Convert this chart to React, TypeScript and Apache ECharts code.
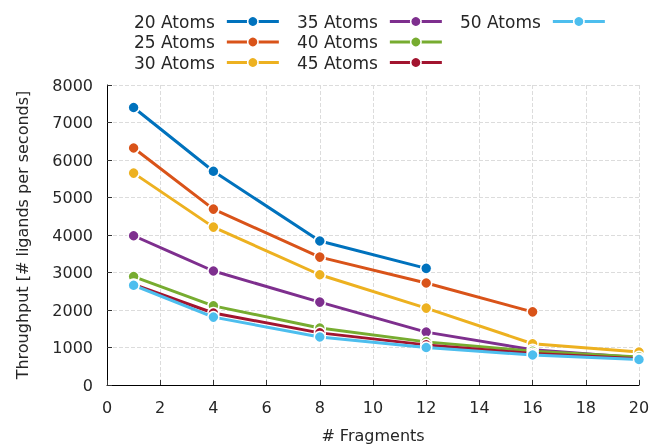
import React, { useEffect, useRef } from "react";
import * as echarts from "echarts";

const fragments = [1, 4, 8, 12, 16, 20];
const seriesNames = ["20 Atoms", "25 Atoms", "30 Atoms", "35 Atoms", "40 Atoms", "45 Atoms", "50 Atoms"];
const atoms20 = [7400, 5700, 3840, 3110];
const atoms25 = [6320, 4690, 3410, 2720, 1950];
const atoms30 = [5650, 4210, 2940, 2050, 1100, 880];
const atoms35 = [3980, 3040, 2210, 1410, 940, 730];
const atoms40 = [2890, 2110, 1520, 1150, 900, 750];
const atoms45 = [2680, 1920, 1390, 1070, 840, 700];
const atoms50 = [2660, 1810, 1280, 1000, 800, 680];
const colors = ["#0072BD", "#D95319", "#EDB120", "#7E2F8E", "#77AC30", "#A2142F", "#4DBEEE"];
const xTicks = { min: 0, max: 20, interval: 2 };
const yTicks = { min: 0, max: 8000, interval: 1000 };

const allValues = [atoms20, atoms25, atoms30, atoms35, atoms40, atoms45, atoms50];

const FONT = "DejaVu Sans";
const TEXT = "#262626";

export default function App() {
  const ref = useRef<HTMLDivElement>(null);
  useEffect(() => {
    if (!ref.current) return;
    const chart = echarts.init(ref.current, null, { renderer: "svg" });
    const series = allValues.map((vals, i) => ({
      name: seriesNames[i],
      type: "line",
      data: vals.map((v, j) => [fragments[j], v]),
      symbol: "circle",
      symbolSize: 11,
      showSymbol: true,
      lineStyle: { width: 3, color: colors[i] },
      itemStyle: { color: colors[i], borderColor: "#fff", borderWidth: 1.5 },
      emphasis: { disabled: true },
      z: 2 + i,
    }));
    const legendBase = {
      orient: "vertical",
      align: "right",
      top: 13,
      padding: 0,
      itemWidth: 52,
      itemHeight: 13,
      itemGap: 3.5,
      selectedMode: false,
      lineStyle: { width: 3 },
      itemStyle: { borderColor: "#fff", borderWidth: 1.5 },
      textStyle: { fontFamily: FONT, fontSize: 17, color: TEXT, padding: [0, 7, 0, 0] },
    };
    const axisText = { fontFamily: FONT, fontSize: 16, color: TEXT };
    chart.setOption({
      animation: false,
      color: colors,
      textStyle: { fontFamily: FONT },
      legend: [
        { ...legendBase, left: 134, data: seriesNames.slice(0, 3) },
        { ...legendBase, left: 297, data: seriesNames.slice(3, 6) },
        { ...legendBase, left: 460, data: seriesNames.slice(6) },
      ],
      grid: { left: 107, right: 15, top: 85, bottom: 61, containLabel: false, outerBoundsMode: "none" },
      xAxis: {
        type: "value",
        ...xTicks,
        name: "# Fragments",
        nameLocation: "middle",
        nameGap: 42,
        nameTextStyle: axisText,
        axisLine: { lineStyle: { color: "#000", width: 1 } },
        axisTick: { inside: true, length: 5, lineStyle: { color: "#333" } },
        axisLabel: { ...axisText, margin: 14 },
        splitLine: { show: true, lineStyle: { type: "dashed", color: "#dcdcdc" } },
      },
      yAxis: {
        type: "value",
        ...yTicks,
        name: "Throughput [# ligands per seconds]",
        nameLocation: "middle",
        nameGap: 77,
        nameTextStyle: axisText,
        axisLine: { show: true, lineStyle: { color: "#000", width: 1 } },
        axisTick: { show: true, inside: true, length: 5, lineStyle: { color: "#333" } },
        axisLabel: { ...axisText, margin: 14, formatter: (v: number) => String(v) },
        splitLine: { show: true, lineStyle: { type: "dashed", color: "#dcdcdc" } },
      },
      series,
    });
    return () => chart.dispose();
  }, []);
  return <div ref={ref} style={{ position: "fixed", left: 0, top: 0, width: 654, height: 446 }} />;
}
